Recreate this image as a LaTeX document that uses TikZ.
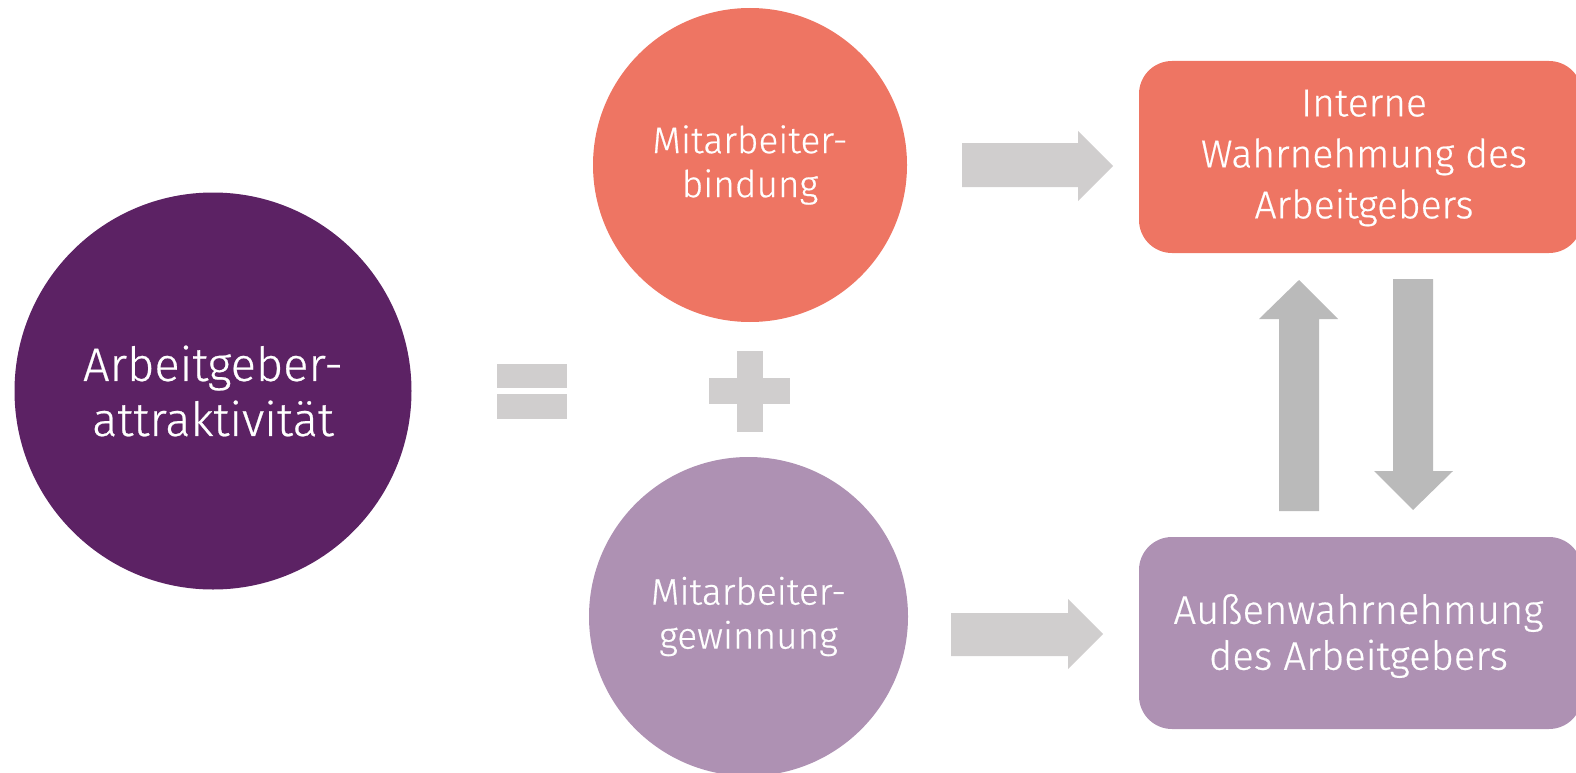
\documentclass[tikz,border=0pt]{standalone}
\usepackage{fontspec}
\setmainfont{Fira Sans Light}[FakeBold=0.5]
\definecolor{cpurple}{HTML}{5C2264}
\definecolor{corange}{HTML}{EE7563}
\definecolor{clilac}{HTML}{AE91B3}
\definecolor{clight}{HTML}{D0CECE}
\definecolor{cdark}{HTML}{BABABA}
\begin{document}
\begin{tikzpicture}[x=1pt,y=-1pt,
  bigcirc/.style={circle, inner sep=0pt, text=white, align=center},
  boxnode/.style={rectangle, rounded corners=33pt, inner sep=0pt,
    minimum width=443pt, minimum height=192pt},
  boxtext/.style={text=white, align=center, inner sep=0pt},
  symb/.style={fill=clight},
  blockarrow/.style={fill=clight},
  vertarrow/.style={fill=cdark}]
\useasboundingbox (0,0) rectangle (1576,773);
\clip (0,0) rectangle (1576,773);
% circles
\node[bigcirc, fill=cpurple, minimum size=397pt,
  font=\fontsize{47}{55}\selectfont] (attr) at (213,391) {Arbeitgeber-\\attraktivität};
\node[bigcirc, fill=corange, minimum size=314pt,
  font=\fontsize{37}{44}\selectfont] (bind) at (750,165) {Mitarbeiter-\\bindung};
\node[bigcirc, fill=clilac, minimum size=319pt,
  font=\fontsize{37}{44}\selectfont] (gewinn) at (748.5,616.5) {Mitarbeiter-\\gewinnung};
% boxes
\node[boxnode, fill=corange] (intern) at (1360.5,157) {};
\node[boxtext, font=\fontsize{39}{51}\selectfont] (interntext) at (1364,158) {Interne\\Wahrnehmung des\\Arbeitgebers};
\node[boxnode, fill=clilac] (aussen) at (1360.5,633) {};
\node[boxtext, font=\fontsize{40}{46}\selectfont] (aussentext) at (1358.5,636) {Außenwahrnehmung\\des Arbeitgebers};
% equals sign
\fill[symb] (497,364) rectangle (567,388);
\fill[symb] (497,394) rectangle (567,419);
% plus sign
\fill[symb] (709,378) rectangle (790,404);
\fill[symb] (737,351) rectangle (763,432);
% horizontal arrows
\fill[blockarrow] (962,143) -- (1078,143) -- (1078,131) -- (1113,166) -- (1078,201) -- (1078,187) -- (962,187) -- cycle;
\fill[blockarrow] (951,613) -- (1068,613) -- (1068,599) -- (1103,634) -- (1068,669) -- (1068,656) -- (951,656) -- cycle;
% vertical arrows
\fill[vertarrow] (1279,511) -- (1279,319) -- (1259,319) -- (1299,280) -- (1338,319) -- (1319,319) -- (1319,511) -- cycle;
\fill[vertarrow] (1393,279) -- (1393,471) -- (1374,471) -- (1413,510) -- (1453,471) -- (1433,471) -- (1433,279) -- cycle;
\end{tikzpicture}
\end{document}
